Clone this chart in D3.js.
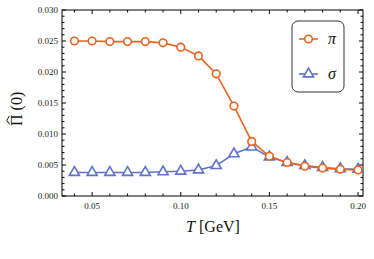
<!DOCTYPE html>
<html><head><meta charset="utf-8">
<script src="https://cdn.jsdelivr.net/npm/d3@7"></script>
<style>body{margin:0;background:#fff}svg{display:block}</style>
</head><body>
<script>
const temps = [0.04,0.05,0.06,0.07,0.08,0.09,0.10,0.11,0.12,0.13,0.14,0.15,0.16,0.17,0.18,0.19,0.20];
const piValues = [0.0250,0.0250,0.0249,0.0249,0.0249,0.0247,0.0240,0.0226,0.0197,0.0145,0.0088,0.0064,0.0054,0.0048,0.0045,0.0043,0.0042];
const sigmaValues = [0.0038,0.0038,0.0038,0.0038,0.0038,0.0039,0.0040,0.0042,0.0049,0.0068,0.0079,0.0063,0.0054,0.0049,0.0046,0.0044,0.0043];
const xTicks = [0.05,0.10,0.15,0.20];
const yTicks = [0.000,0.005,0.010,0.015,0.020,0.025,0.030];
const seriesNames = ["π","σ"];

const W=374,H=259;
const m={l:62,r:11,t:10,b:63};
const orange="#E8641E", blue="#5F72C8";
const svg=d3.select("body").append("svg").attr("width",W).attr("height",H);
const x=d3.scaleLinear().domain([0.033,0.2028]).range([m.l,W-m.r]);
const y=d3.scaleLinear().domain([0,0.030]).range([H-m.b,m.t]);
const font="'Liberation Serif','DejaVu Serif',serif";

// frame
svg.append("rect").attr("x",m.l).attr("y",m.t).attr("width",W-m.r-m.l).attr("height",H-m.b-m.t)
  .attr("fill","none").attr("stroke","#000").attr("stroke-width",1);

const minorX=d3.range(0.04,0.2001,0.01);
const minorY=d3.range(0,0.0301,0.001);
const g=svg.append("g");
minorX.forEach(v=>{
  const major=xTicks.some(t=>Math.abs(t-v)<1e-6);
  const len=major?4:2.5;
  g.append("line").attr("x1",x(v)).attr("x2",x(v)).attr("y1",y(0)).attr("y2",y(0)-len).attr("stroke","#000");
  g.append("line").attr("x1",x(v)).attr("x2",x(v)).attr("y1",y(0.03)).attr("y2",y(0.03)+len).attr("stroke","#000");
});
minorY.forEach(v=>{
  const major=yTicks.some(t=>Math.abs(t-v)<1e-7);
  const len=major?4:2.5;
  g.append("line").attr("y1",y(v)).attr("y2",y(v)).attr("x1",x.range()[0]).attr("x2",x.range()[0]+len).attr("stroke","#000");
  g.append("line").attr("y1",y(v)).attr("y2",y(v)).attr("x1",x.range()[1]).attr("x2",x.range()[1]-len).attr("stroke","#000");
});
xTicks.forEach(v=>{
  svg.append("text").attr("x",x(v)).attr("y",y(0)+13).attr("text-anchor","middle")
    .attr("font-family",font).attr("font-size",9).attr("fill","#222").text(v.toFixed(2));
});
yTicks.forEach(v=>{
  svg.append("text").attr("x",m.l-4).attr("y",y(v)+3).attr("text-anchor","end")
    .attr("font-family",font).attr("font-size",9).attr("fill","#222").text(v.toFixed(3));
});

// axis labels
const xl=svg.append("text").attr("x",213).attr("y",232).attr("text-anchor","middle")
  .attr("font-family",font).attr("font-size",16).attr("fill","#111");
xl.append("tspan").attr("font-style","italic").text("T");
xl.append("tspan").text(" [GeV]");
const yl=svg.append("g").attr("transform","translate(22,106) rotate(-90)");
yl.append("text").attr("x",-20).attr("y",0).attr("font-family",font).attr("font-size",16).attr("fill","#111").text("Π (0)");
yl.append("path").attr("d","M-18.5,-12.5 L-14.2,-15.2 L-9.9,-12.5").attr("fill","none").attr("stroke","#111").attr("stroke-width",1);

const line=d3.line().x((d,i)=>x(temps[i])).y(d=>y(d));
function drawSeries(vals,color,shape){
  svg.append("path").datum(vals).attr("d",line).attr("fill","none").attr("stroke",color).attr("stroke-width",1.6);
  vals.forEach((v,i)=>marker(x(temps[i]),y(v),color,shape));
}
function marker(cx,cy,color,shape){
  if(shape==="circle"){
    svg.append("circle").attr("cx",cx).attr("cy",cy).attr("r",3.8).attr("fill","#fff").attr("stroke",color).attr("stroke-width",1.6);
  } else {
    const s=d3.symbol().type(d3.symbolTriangle).size(44);
    svg.append("path").attr("d",s()).attr("transform",`translate(${cx},${cy})`).attr("fill","#fff").attr("stroke",color).attr("stroke-width",1.6);
  }
}
drawSeries(sigmaValues,blue,"triangle");
drawSeries(piValues,orange,"circle");

// legend
svg.append("rect").attr("x",292).attr("y",21).attr("width",52).attr("height",71).attr("rx",6)
  .attr("fill","#fff").attr("stroke","#333").attr("stroke-width",1);
[[orange,"circle",39],[blue,"triangle",74]].forEach((d,i)=>{
  svg.append("line").attr("x1",299).attr("x2",318).attr("y1",d[2]).attr("y2",d[2]).attr("stroke",d[0]).attr("stroke-width",1.6);
  marker(308.5,d[2],d[0],d[1]);
  svg.append("text").attr("x",328).attr("y",d[2]+5).attr("font-family",font).attr("font-style","italic")
    .attr("font-size",16).attr("fill","#111").text(seriesNames[i]);
});
</script>
</body></html>
